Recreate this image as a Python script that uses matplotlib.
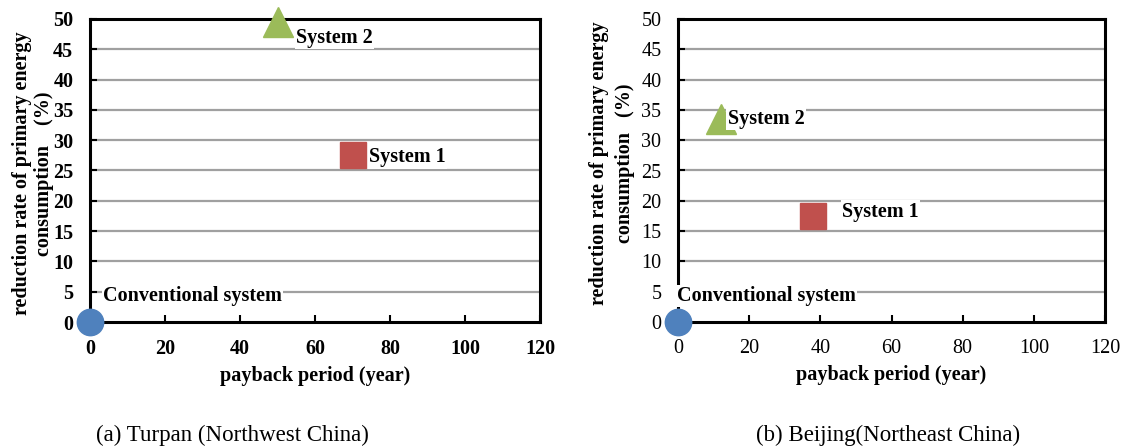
import matplotlib
matplotlib.use("Agg")
import matplotlib.pyplot as plt

plt.rcParams['font.family'] = ['Liberation Serif', 'DejaVu Serif']

# Data
systems = ["Conventional system", "System 1", "System 2"]
turpan_payback = [0, 70, 50]
turpan_reduction = [0, 27.5, 49.5]
beijing_payback = [0, 38, 12]
beijing_reduction = [0, 17.5, 33.5]

marker_styles = ["o", "s", "^"]
colors = ["#4F81BD", "#C0504D", "#9BBB59"]

x_ticks = [0, 20, 40, 60, 80, 100, 120]
y_ticks = [0, 5, 10, 15, 20, 25, 30, 35, 40, 45, 50]

# label anchor positions (data coords, left edge / vertical centre)
turpan_label_pos = [(3.5, 4.3), (74.5, 27.2), (55.0, 46.9)]
beijing_label_pos = [(-0.3, 4.3), (46.2, 18.2), (14.0, 33.5)]

ylabel_a = "reduction rate of primary energy\nconsumption    (%)"
ylabel_b = "reduction rate of primary energy\nconsumption   (%)"
xlabel = "payback period (year)"
captions = ["(a) Turpan (Northwest China)", "(b) Beijing(Northeast China)"]

W, H = 1126, 448
fig = plt.figure(figsize=(W / 100, H / 100), dpi=100)


def make_axes(rect, px, py, label_pos, bold_ticks, ylabel, ylab_x, ylab_y, lsp):
    ax = fig.add_axes(rect)
    ax.set_xlim(0, 120)
    ax.set_ylim(0, 50)
    ax.set_xticks(x_ticks)
    ax.set_yticks(y_ticks)
    fw = 'bold' if bold_ticks else 'normal'
    ax.set_xticklabels([str(v) for v in x_ticks], fontsize=14.5, fontweight=fw)
    ax.set_yticklabels([str(v) for v in y_ticks], fontsize=14.5, fontweight=fw)
    ax.tick_params(axis='both', direction='in', length=5, width=1.5, color='black')
    ax.tick_params(axis='x', pad=12)
    ax.tick_params(axis='y', pad=12)
    for s in ax.spines.values():
        s.set_linewidth(2.2)
        s.set_color('black')
    for y in y_ticks[1:-1]:
        ax.axhline(y, color='#a0a0a0', linewidth=1.6, zorder=1)
    for i in range(len(systems)):
        ax.plot(px[i], py[i], marker=marker_styles[i], markersize=19 if i != 2 else 21,
                color=colors[i], markeredgecolor=colors[i], linestyle='none',
                clip_on=False, zorder=4)
        lx, ly = label_pos[i]
        ax.text(lx, ly, systems[i], fontsize=14.5, fontweight='bold', ha='left',
                va='center', zorder=5,
                bbox=dict(facecolor='white', edgecolor='none', pad=1.0))
    ax.set_xlabel(xlabel, fontsize=14.5, fontweight='bold', labelpad=5)
    ax.set_ylabel(ylabel, fontsize=14.5, fontweight='bold', linespacing=lsp)
    ax.yaxis.set_label_coords(ylab_x, ylab_y)
    return ax


ax1 = make_axes([90 / W, 1 - 322 / H, 450 / W, 303 / H], turpan_payback, turpan_reduction,
                turpan_label_pos, True, ylabel_a, -0.079, 0.49, 1.18)
ax2 = make_axes([678 / W, 1 - 322 / H, 427 / W, 303 / H], beijing_payback, beijing_reduction,
                beijing_label_pos, False, ylabel_b, -0.101, 0.525, 1.42)

fig.text(232 / W, 1 - 435 / H, captions[0], fontsize=16.5, ha='center', va='center')
fig.text(888 / W, 1 - 435 / H, captions[1], fontsize=16.5, ha='center', va='center')

fig.savefig("out.png", dpi=100)
